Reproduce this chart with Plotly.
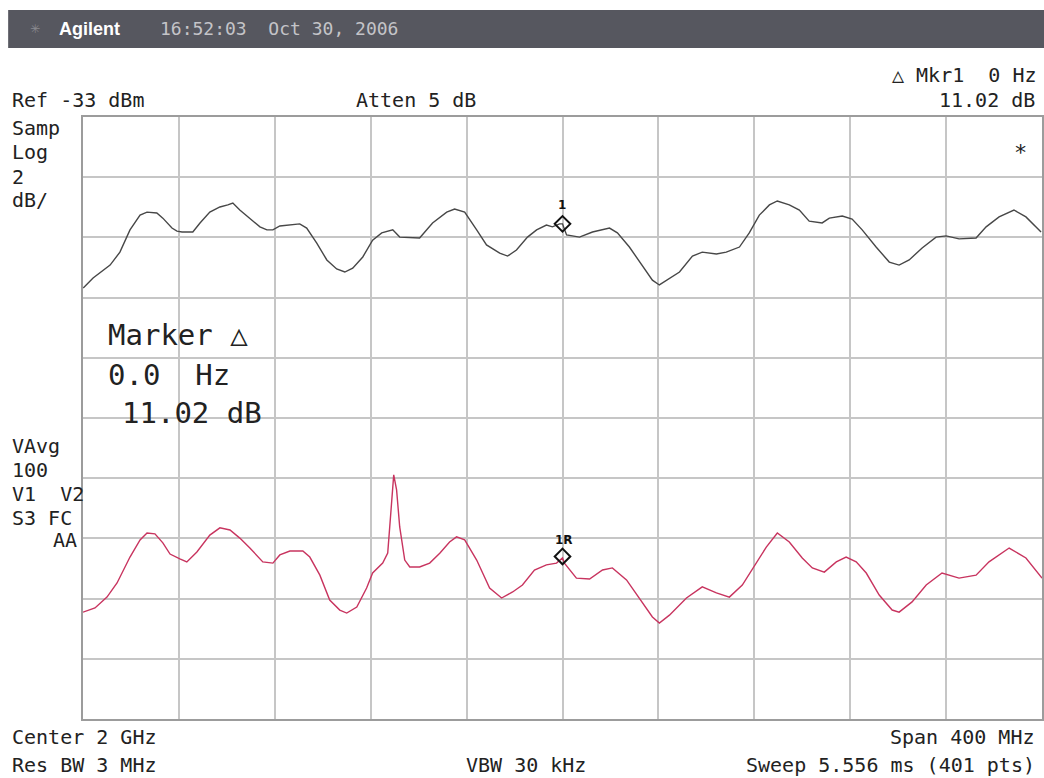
import plotly.graph_objects as go

# ---------------- data (frequency in MHz, level in dBm) ----------------
freq_top = [1800.1, 1804.2, 1811.3, 1815.4, 1819.6, 1823.8, 1826.7, 1830.8, 1833.3, 1837.1,
            1839.2, 1841.3, 1845.8, 1848.8, 1852.9, 1857.1, 1860.4, 1862.5, 1865.4, 1869.6,
            1873.8, 1876.7, 1879.2, 1882.1, 1890.4, 1893.3, 1897.5, 1901.7, 1905.8, 1909.2,
            1912.5, 1916.7, 1920.8, 1924.6, 1929.2, 1932.1, 1937.5, 1940.4, 1945.8, 1951.7,
            1955.0, 1959.2, 1964.2, 1968.3, 1973.8, 1977.1, 1980.8, 1985.4, 1989.2, 1993.3,
            1995.8, 1998.8, 2000.0, 2001.7, 2007.1, 2012.5, 2019.6, 2022.9, 2027.9, 2033.3,
            2037.5, 2040.4, 2044.6, 2048.8, 2054.2, 2058.3, 2064.2, 2068.3, 2073.8, 2077.9,
            2082.1, 2086.3, 2089.6, 2094.6, 2098.8, 2102.9, 2108.3, 2111.3, 2116.7, 2120.8,
            2125.0, 2130.8, 2136.3, 2140.4, 2144.6, 2150.0, 2155.8, 2160.0, 2165.4, 2172.5,
            2176.7, 2182.1, 2188.3, 2193.3, 2199.6]
level_top = [-38.68, -38.35, -37.92, -37.49, -36.75, -36.26, -36.16, -36.19, -36.36, -36.69,
             -36.79, -36.82, -36.82, -36.52, -36.16, -35.99, -35.92, -35.86, -36.09, -36.36,
             -36.65, -36.75, -36.75, -36.62, -36.55, -36.69, -37.19, -37.75, -38.05, -38.15,
             -38.02, -37.65, -37.09, -36.85, -36.75, -36.99, -37.02, -37.02, -36.52, -36.16,
             -36.06, -36.16, -36.75, -37.25, -37.52, -37.62, -37.42, -36.99, -36.75, -36.59,
             -36.65, -36.55, -36.55, -36.92, -36.99, -36.82, -36.69, -36.85, -37.32, -37.92,
             -38.42, -38.58, -38.35, -38.15, -37.62, -37.49, -37.55, -37.49, -37.32, -36.85,
             -36.26, -35.92, -35.79, -35.92, -36.09, -36.46, -36.52, -36.36, -36.29, -36.39,
             -36.75, -37.32, -37.82, -37.92, -37.75, -37.35, -36.99, -36.95, -37.05, -37.02,
             -36.65, -36.32, -36.09, -36.32, -36.82]

freq_bot = [1800.0, 1805.0, 1810.0, 1814.2, 1819.6, 1823.8, 1826.7, 1830.0, 1833.3, 1836.3,
            1840.4, 1843.3, 1847.5, 1852.9, 1857.1, 1861.3, 1865.4, 1869.6, 1875.0, 1879.2,
            1882.1, 1886.3, 1891.7, 1894.6, 1898.8, 1902.9, 1907.1, 1910.0, 1914.2, 1918.3,
            1920.8, 1925.0, 1927.1, 1928.8, 1929.6, 1930.8, 1932.1, 1934.2, 1936.3, 1940.4,
            1944.6, 1948.8, 1952.9, 1955.8, 1959.2, 1964.2, 1969.6, 1974.6, 1979.2, 1983.3,
            1988.3, 1993.3, 1997.5, 2000.0, 2000.8, 2005.8, 2011.3, 2016.7, 2020.8, 2026.7,
            2032.1, 2037.5, 2040.4, 2044.6, 2051.7, 2058.3, 2064.2, 2069.6, 2075.0, 2080.8,
            2085.0, 2089.6, 2094.6, 2100.0, 2104.2, 2109.2, 2114.2, 2118.3, 2122.5, 2126.7,
            2132.1, 2137.5, 2140.4, 2145.8, 2151.7, 2158.3, 2165.4, 2172.5, 2177.9, 2186.3,
            2193.3, 2200.0]
level_bot = [-49.45, -49.31, -48.95, -48.48, -47.62, -47.05, -46.82, -46.85, -47.15, -47.52,
             -47.68, -47.78, -47.45, -46.89, -46.65, -46.72, -46.99, -47.32, -47.78, -47.82,
             -47.55, -47.42, -47.42, -47.62, -48.22, -49.05, -49.38, -49.48, -49.28, -48.65,
             -48.15, -47.82, -47.49, -45.72, -44.89, -45.39, -46.62, -47.72, -47.95, -47.95,
             -47.82, -47.49, -47.12, -46.95, -47.05, -47.72, -48.65, -48.98, -48.78, -48.55,
             -48.05, -47.88, -47.82, -47.65, -47.82, -48.32, -48.35, -48.05, -47.98, -48.38,
             -48.98, -49.61, -49.81, -49.55, -48.98, -48.61, -48.81, -48.95, -48.55, -47.82,
             -47.29, -46.82, -47.12, -47.65, -47.98, -48.12, -47.78, -47.62, -47.78, -48.15,
             -48.88, -49.38, -49.45, -49.11, -48.55, -48.15, -48.32, -48.22, -47.78, -47.32,
             -47.65, -48.32]

marker_freq = [2000.0]
marker_top = [-36.55]
marker_ref = [-47.60]

ref_level = -33
db_per_div = 2
center_mhz = 2000
span_mhz = 400

# ---------------- figure ----------------
W, H = 1044, 778
L, R, T, B = 83, 0, 117, 59
PW, PH = W - L - R, H - T - B


def px(x):
    return (x - L) / PW


def py(y):
    return (H - B - y) / PH


MONO = "DejaVu Sans Mono"
TXT = "#222222"

fig = go.Figure()
fig.add_trace(go.Scatter(x=freq_top, y=level_top, mode="lines",
                         line=dict(color="#474747", width=1.4), hoverinfo="skip"))
fig.add_trace(go.Scatter(x=freq_bot, y=level_bot, mode="lines",
                         line=dict(color="#c8345f", width=1.4), hoverinfo="skip"))
fig.add_trace(go.Scatter(x=marker_freq * 2, y=marker_top + marker_ref, mode="markers",
                         marker=dict(symbol="diamond-open", size=12, color="#111111",
                                     line=dict(width=2, color="#111111")),
                         hoverinfo="skip"))

x0 = center_mhz - span_mhz / 2
x1 = center_mhz + span_mhz / 2
y0 = ref_level - 10 * db_per_div

fig.update_xaxes(range=[x0, x1], dtick=span_mhz / 10, tick0=x0, showgrid=True,
                 gridcolor="#c6c6c6", gridwidth=1.5, showline=True, linecolor="#9c9c9c",
                 linewidth=2, mirror=True, showticklabels=False, ticks="", zeroline=False)
fig.update_yaxes(range=[y0, ref_level], dtick=db_per_div, tick0=y0, showgrid=True,
                 gridcolor="#c6c6c6", gridwidth=1.5, showline=True, linecolor="#9c9c9c",
                 linewidth=2, mirror=True, showticklabels=False, ticks="", zeroline=False)

shapes = [dict(type="rect", xref="paper", yref="paper", x0=px(8), x1=px(1050),
               y0=py(48), y1=py(10), fillcolor="#56575f", line=dict(width=0), layer="above")]

anns = []


def ann(text, x, y, anchor="left", size=20, color=TXT, family=MONO):
    anns.append(dict(text=text, x=px(x), y=py(y), xref="paper", yref="paper",
                     xanchor=anchor, yanchor="middle", showarrow=False,
                     font=dict(family=family, size=size, color=color)))


ann("✳", 28, 29, size=12, color="#8a8a90", family="DejaVu Sans")
ann("<b>Agilent</b>", 57, 29, size=18, color="#ffffff", family="Liberation Sans")
ann("16:52:03  Oct 30, 2006", 158, 29, size=18, color="#c4c4c8")

ann("Ref -33 dBm", 10, 100)
ann("Atten 5 dB", 355, 100)
ann("△ Mkr1  0 Hz", 1041, 75, anchor="right")
ann("11.02 dB", 1039, 100, anchor="right")
ann("*", 1022, 152, anchor="center", size=22)

ann("Samp", 10, 128)
ann("Log", 10, 152)
ann("2", 10, 177)
ann("dB/", 10, 200)

ann("VAvg", 10, 446)
ann("100", 10, 470)
ann("V1  V2", 10, 494)
ann("S3 FC", 10, 518)
ann("AA", 79, 540, anchor="right")

ann("Marker △", 106, 335, size=29)
ann("0.0  Hz", 106, 375, size=29)
ann("11.02 dB", 120, 413, size=29)

ann("<b>1</b>", 563, 205, anchor="center", size=12, color="#111111", family="DejaVu Sans")
ann("<b>1R</b>", 565, 540, anchor="center", size=12, color="#111111", family="DejaVu Sans")

ann("Center 2 GHz", 10, 737)
ann("Span 400 MHz", 1039, 737, anchor="right")
ann("Res BW 3 MHz", 10, 765)
ann("VBW 30 kHz", 465, 765)
ann("Sweep 5.556 ms (401 pts)", 1039, 765, anchor="right")

fig.update_layout(width=W, height=H, margin=dict(l=L, r=R, t=T, b=B),
                  paper_bgcolor="#ffffff", plot_bgcolor="#ffffff", showlegend=False,
                  shapes=shapes, annotations=anns)

# remove the default page margin so the 1044x778 figure fills the window exactly
fig.write_html("out.html", config={"displayModeBar": False},
               post_script="document.body.style.margin='0';"
                           "document.documentElement.style.overflow='hidden';")
